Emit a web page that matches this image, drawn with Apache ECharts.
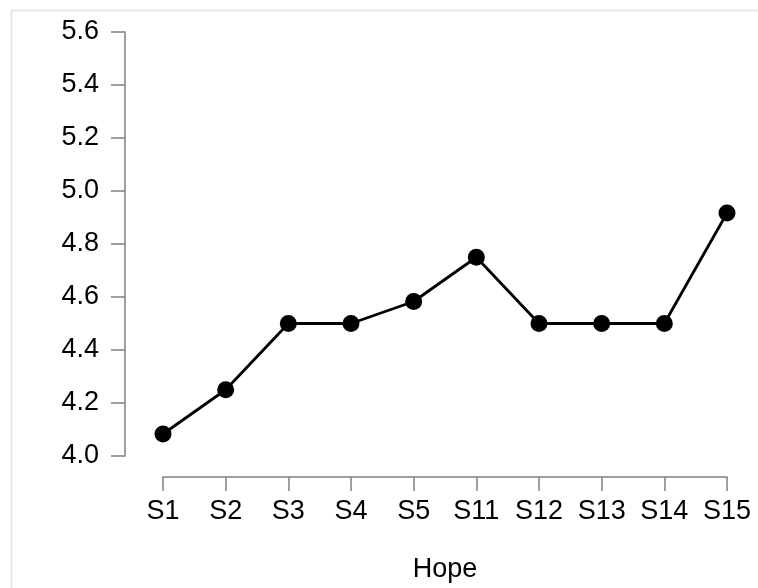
<!DOCTYPE html>
<html>
<head>
<meta charset="utf-8">
<script src="https://cdn.jsdelivr.net/npm/echarts@6/dist/echarts.min.js"></script>
<style>
html,body{margin:0;padding:0;background:#fff;}
#main{width:758px;height:588px;}
</style>
</head>
<body>
<div id="main"></div>
<script>
var categories = ['S1','S2','S3','S4','S5','S11','S12','S13','S14','S15'];
var hopeValues = [4.083, 4.25, 4.5, 4.5, 4.583, 4.75, 4.5, 4.5, 4.5, 4.917];
var xAxisName = 'Hope';
var yMin = 4.0, yMax = 5.6, yInterval = 0.2;

var chart = echarts.init(document.getElementById('main'), null, {renderer: 'canvas'});
var font = '"Liberation Sans", Arial, sans-serif';
chart.setOption({
  backgroundColor: '#ffffff',
  animation: false,
  graphic: [{
    type: 'rect',
    left: 9, top: 8,
    shape: {x: 0, y: 0, width: 800, height: 700},
    style: {fill: 'none', stroke: '#e6e6e6', lineWidth: 2},
    silent: true
  }],
  grid: {left: 163, right: 31, top: 32, bottom: 127, containLabel: false},
  xAxis: {
    type: 'category',
    data: categories,
    boundaryGap: false,
    offset: 21,
    name: xAxisName,
    nameLocation: 'middle',
    nameGap: 79,
    nameTextStyle: {fontSize: 27, color: '#000', fontFamily: font},
    axisLine: {show: true, lineStyle: {color: '#808080', width: 1.5}},
    axisTick: {show: true, alignWithLabel: true, length: 14, lineStyle: {color: '#808080', width: 1.5}},
    axisLabel: {fontSize: 27, color: '#000', fontFamily: font, margin: 21, interval: 0},
    splitLine: {show: false}
  },
  yAxis: {
    type: 'value',
    min: yMin, max: yMax, interval: yInterval,
    offset: 38,
    axisLine: {show: true, lineStyle: {color: '#808080', width: 1.5}},
    axisTick: {show: true, length: 14, lineStyle: {color: '#808080', width: 1.5}},
    axisLabel: {fontSize: 27, color: '#000', fontFamily: font, margin: 26,
      formatter: function(v){ return v.toFixed(1); }},
    splitLine: {show: false}
  },
  series: [{
    type: 'line',
    data: hopeValues,
    symbol: 'circle',
    symbolSize: 17,
    itemStyle: {color: '#000'},
    lineStyle: {color: '#000', width: 2.8},
    z: 3
  }]
});
</script>
</body>
</html>
